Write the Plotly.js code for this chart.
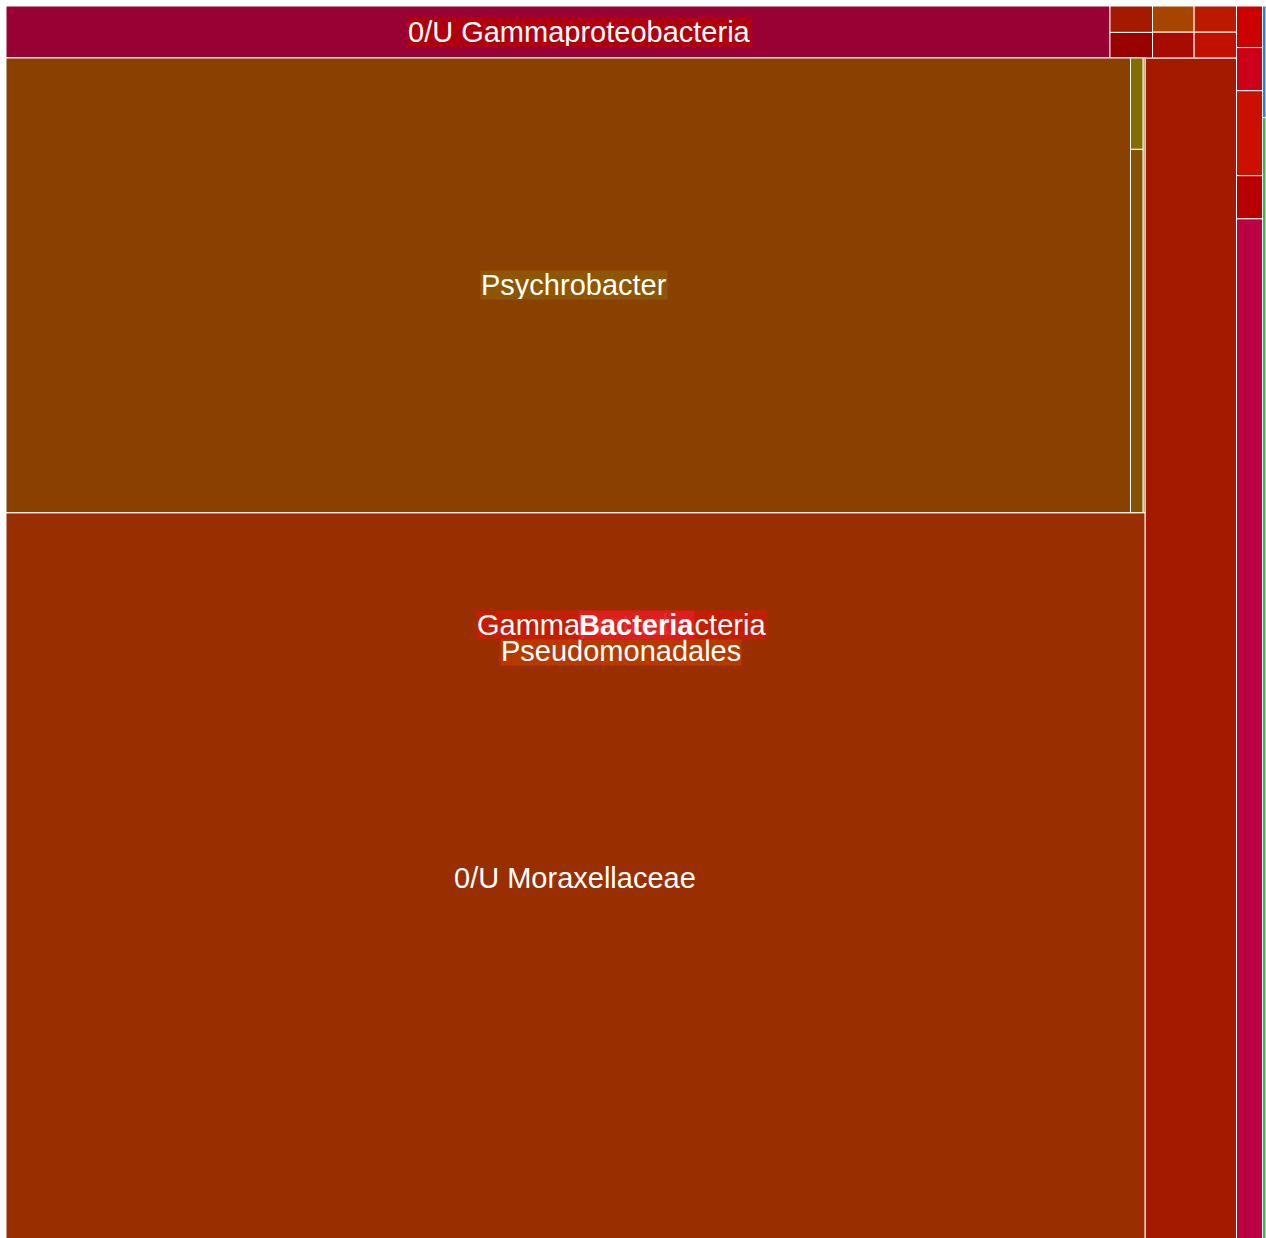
<!DOCTYPE html>
<html>
<head>
<meta charset="utf-8">
<script src="https://cdn.plot.ly/plotly-3.0.1.min.js"></script>
<style>
  html, body { margin: 0; padding: 0; overflow: hidden; background: #ffffff; }
  #chart { width: 1266px; height: 1250px; }
</style>
</head>
<body>
<div id="chart"></div>
<script>
// ---- Data (in relative read counts) ----
const ids = [
  'Bacteria', 'Proteobacteria', 'Firmicutes', 'Bacteroidetes',
  'Gammaproteobacteria', 'Alphaproteobacteria', 'Deltaproteobacteria', 'Betaproteobacteria',
  'Epsilonproteobacteria', 'Zetaproteobacteria',
  'Pseudomonadales', '0/U Gammaproteobacteria', 'Alteromonadales', 'Enterobacterales',
  'Gammaproteobacteria (unassigned)', 'Vibrionales', 'Oceanospirillales',
  'Shewanella', '0/U Alteromonadales', 'Escherichia', '0/U Enterobacterales',
  'Moraxellaceae', 'Pseudomonadaceae',
  '0/U Moraxellaceae', 'Psychrobacter', 'Acinetobacter',
  '0/U Psychrobacter', 'Psychrobacter cryohalolentis', 'Psychrobacter arcticus'
];
const parents = [
  '', 'Bacteria', 'Bacteria', 'Bacteria',
  'Proteobacteria', 'Proteobacteria', 'Proteobacteria', 'Proteobacteria',
  'Proteobacteria', 'Proteobacteria',
  'Gammaproteobacteria', 'Gammaproteobacteria', 'Gammaproteobacteria', 'Gammaproteobacteria',
  '0/U Gammaproteobacteria', '0/U Gammaproteobacteria', '0/U Gammaproteobacteria',
  'Alteromonadales', 'Alteromonadales', 'Enterobacterales', 'Enterobacterales',
  'Pseudomonadales', 'Pseudomonadales',
  'Moraxellaceae', 'Moraxellaceae', 'Moraxellaceae',
  'Psychrobacter', 'Psychrobacter', 'Psychrobacter'
];
const values = [
  0, 0, 394, 39,
  0, 2666, 112, 221,
  112, 108,
  0, 0, 0, 0,
  5733, 109, 112,
  108, 108, 110, 110,
  0, 10847,
  83261, 0, 91,
  51109, 454, 114
];
const colors = [
  '#dd1c1c', '#cc1100', '#4caf50', '#3a7ebf',
  '#c41e00', '#bb0044', '#b80000', '#cc1000',
  '#cc0018', '#cc0000',
  '#b53a00', '#b0000e', '#a62a00', '#bb1500',
  '#990033', '#990000', '#a31a00',
  '#a60c00', '#a64400', '#bf1000', '#bb1a00',
  '#9a3400', '#a31a00',
  '#992e00', '#8e5600', '#8f5a10',
  '#8a4000', '#855200', '#826e00'
];

// Labels that are shown, in drawing order, with their background colours
const labelIds = ['0/U Moraxellaceae', 'Psychrobacter', '0/U Gammaproteobacteria',
                  'Pseudomonadales', 'Gammaproteobacteria', 'Bacteria'];
const labelBg = [null, '#8e5600', '#b0000e', '#b53a00', '#c41e00', 'rgba(224,30,30,0.93)'];
const labelBold = [false, false, false, false, false, true];

const trace = {
  type: 'treemap',
  ids: ids,
  labels: ids,
  parents: parents,
  values: values,
  branchvalues: 'remainder',
  sort: false,
  textinfo: 'none',
  hoverinfo: 'skip',
  pathbar: { visible: false },
  tiling: { packing: 'squarify', squarifyratio: 1, flip: 'y', pad: 0 },
  marker: {
    colors: colors,
    depthfade: false,
    pad: { t: 0, l: 0, r: 0, b: 0 },
    line: { color: '#ffffff', width: 1 }
  }
};

const layout = {
  width: 1266,
  height: 1250,
  margin: { l: 6, r: 0, t: 6, b: 6 },
  paper_bgcolor: '#ffffff',
  showlegend: false,
  font: { family: 'Liberation Sans, Arial, sans-serif' }
};

const gd = document.getElementById('chart');
Plotly.newPlot(gd, [trace], layout, { staticPlot: true, displayModeBar: false }).then(function () {
  const gdBox = gd.getBoundingClientRect();
  const sz = gd._fullLayout._size;
  const boxes = {};
  gd.querySelectorAll('g.slice').forEach(function (g) {
    const d = g.__data__;
    let id = null;
    if (d && d.data && d.data.data && d.data.data.id != null) id = d.data.data.id;
    else if (d && d.data && d.data.id != null) id = d.data.id;
    const p = g.querySelector('path.surface') || g.querySelector('path');
    if (id != null && p) boxes[id] = p.getBoundingClientRect();
  });
  const anns = [];
  labelIds.forEach(function (id, k) {
    const r = boxes[id];
    if (!r) return;
    const cx = (r.left + r.right) / 2 - gdBox.left;
    const cy = (r.top + r.bottom) / 2 - gdBox.top;
    const a = {
      xref: 'paper', yref: 'paper',
      x: (cx - sz.l) / sz.w,
      y: 1 - (cy - sz.t) / sz.h,
      xanchor: 'center', yanchor: 'middle',
      showarrow: false,
      text: labelBold[k] ? '<b>' + id + '</b>' : id,
      font: { family: 'Liberation Sans, Arial, sans-serif', size: 29, color: '#ffffff' },
      height: 28,
      borderpad: 0
    };
    if (labelBg[k]) a.bgcolor = labelBg[k];
    anns.push(a);
  });
  return Plotly.relayout(gd, { annotations: anns });
});
</script>
</body>
</html>
